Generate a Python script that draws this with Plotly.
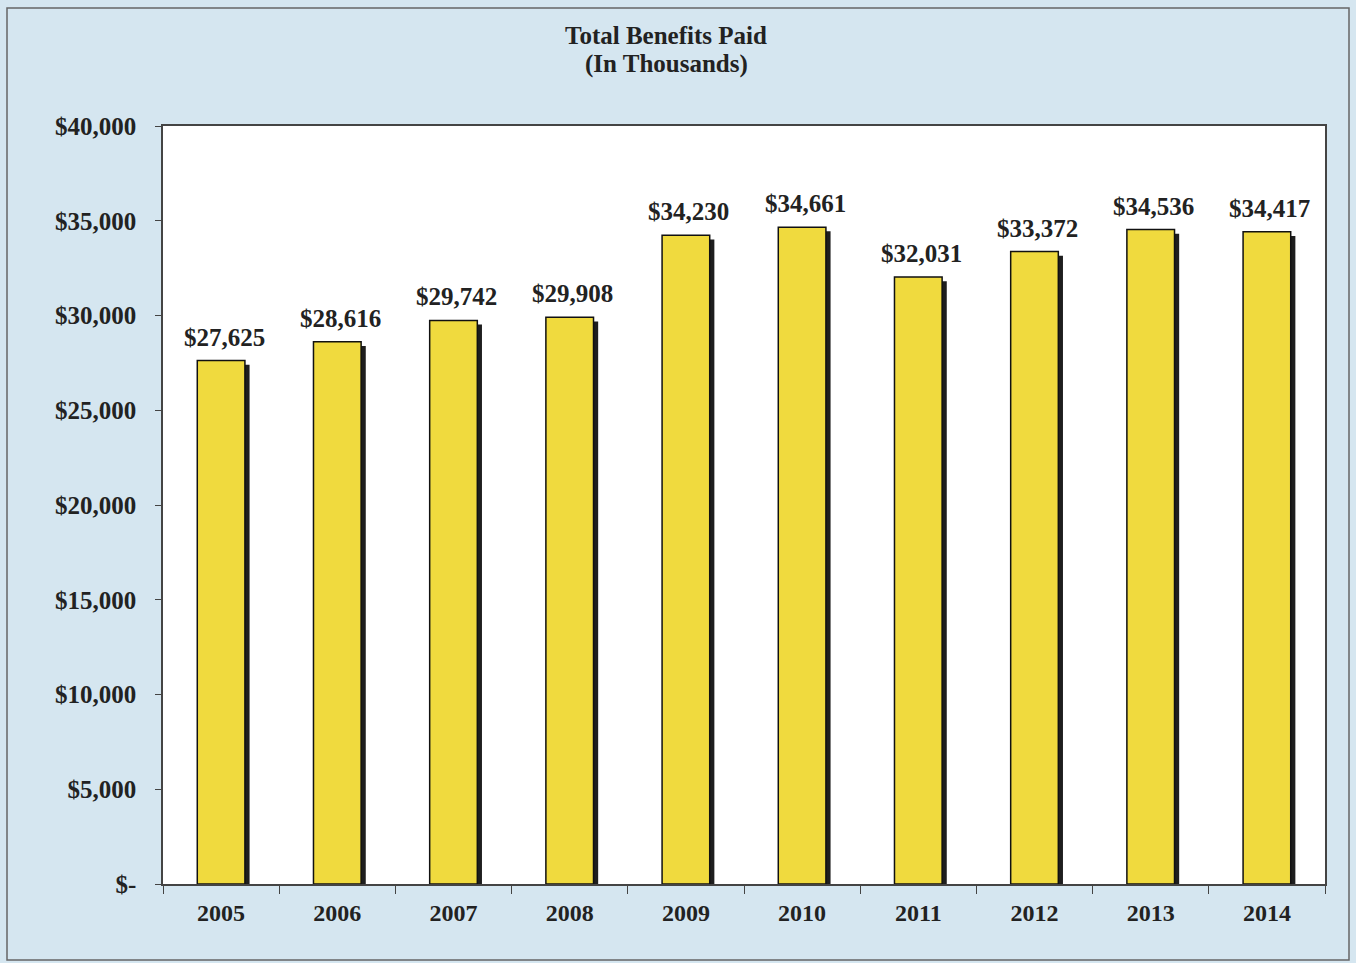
import plotly.graph_objects as go

years = ["2005", "2006", "2007", "2008", "2009", "2010", "2011", "2012", "2013", "2014"]
benefits = [27625, 28616, 29742, 29908, 34230, 34661, 32031, 33372, 34536, 34417]
tick_vals = [0, 5000, 10000, 15000, 20000, 25000, 30000, 35000, 40000]
tick_text = ["$-", "$5,000", "$10,000", "$15,000", "$20,000", "$25,000", "$30,000", "$35,000", "$40,000"]
title_lines = ["Total Benefits Paid", "(In Thousands)"]

FONT = "Liberation Serif"
BAR_W = 0.41
SHADOW_SHIFT = 0.04
SHADOW_DROP = 220
TXT = "#222222"

labels = ["$" + f"{v:,}" for v in benefits]

fig = go.Figure()
# drop shadow
fig.add_trace(go.Bar(
    x=years, y=[v - SHADOW_DROP for v in benefits],
    width=BAR_W, offset=-BAR_W / 2 + SHADOW_SHIFT,
    marker=dict(color="#1e1e1e", line=dict(width=0)),
    hoverinfo="skip", showlegend=False,
))
# main bars
fig.add_trace(go.Bar(
    x=years, y=benefits,
    width=BAR_W, offset=-BAR_W / 2,
    marker=dict(color="#f0da3e", line=dict(color="#111111", width=1.5)),
    showlegend=False,
))

annotations = []
for i, (v, lab) in enumerate(zip(benefits, labels)):
    annotations.append(dict(
        x=i, y=v, xref="x", yref="y", text="<b>" + lab + "</b>",
        showarrow=False, yanchor="bottom", yshift=8, xshift=3,
        font=dict(family=FONT, size=25, color=TXT, weight="bold"),
    ))
for line, ypx in zip(title_lines, [35, 64]):
    annotations.append(dict(
        xref="paper", yref="paper",
        x=(666 - 163) / 1162, y=(884 - ypx) / 758,
        text="<b>" + line + "</b>",
        showarrow=False, xanchor="center", yanchor="middle",
        font=dict(family=FONT, size=25, color=TXT),
    ))

fig.update_layout(
    width=1356, height=963,
    barmode="overlay",
    paper_bgcolor="#d5e6f0",
    plot_bgcolor="#ffffff",
    margin=dict(l=163, r=31, t=126, b=79),
    font=dict(family=FONT, color=TXT),
    xaxis=dict(
        type="category", range=[-0.5, 9.5],
        showline=True, linecolor="#444444", linewidth=1.5, mirror=True,
        ticks="outside", tickson="boundaries", ticklen=8, tickcolor="#444444",
        tickfont=dict(family=FONT, size=24, color=TXT, weight="bold"),
        ticklabelstandoff=6,
        showgrid=False,
    ),
    yaxis=dict(
        range=[0, 40000],
        tickvals=tick_vals, ticktext=tick_text,
        showline=True, linecolor="#444444", linewidth=1.5, mirror=True,
        ticks="outside", ticklen=6, tickcolor="#444444",
        tickfont=dict(family=FONT, size=25, color=TXT, weight="bold"),
        ticklabelstandoff=14,
        showgrid=False, zeroline=False,
    ),
    annotations=annotations,
    shapes=[dict(
        type="rect", xref="paper", yref="paper",
        x0=(7 - 163) / 1162, x1=(1349 - 163) / 1162,
        y0=(884 - 960) / 758, y1=(884 - 8) / 758,
        line=dict(color="#666666", width=1.5), fillcolor="rgba(0,0,0,0)",
        layer="below",
    )],
)

fig.write_html("out.html")
